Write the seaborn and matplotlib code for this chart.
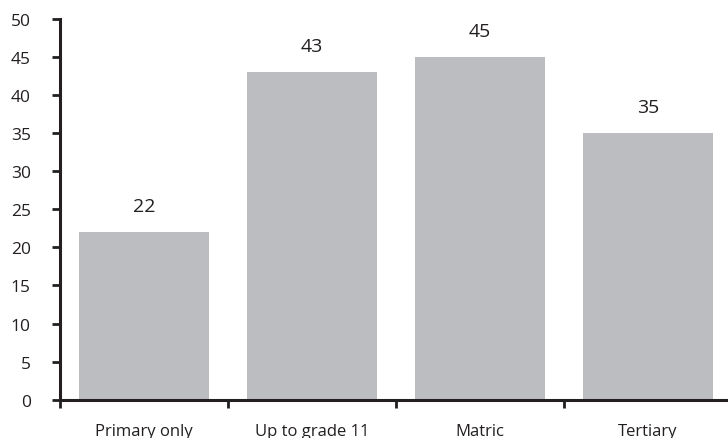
import matplotlib
matplotlib.use("Agg")
import matplotlib.pyplot as plt
import seaborn as sns
import pandas as pd
import numpy as np

categories = ["Primary only", "Up to grade 11", "Matric", "Tertiary"]
values = [22, 43, 45, 35]
y_ticks = [0, 5, 10, 15, 20, 25, 30, 35, 40, 45, 50]

sns.set_theme(style="white")
plt.rcParams["font.family"] = ["Open Sans", "DejaVu Sans"]

ink = "#231f20"
bar_grey = "#bcbdc1"

df = pd.DataFrame({"level": categories, "share": values})

fig = plt.figure(figsize=(7.28, 4.39), dpi=100)
ax = fig.add_axes([60 / 728, (439 - 400.7) / 439, 672 / 728, (400.7 - 20) / 439])

sns.barplot(data=df, x="level", y="share", color=bar_grey, width=0.775,
            saturation=1, linewidth=0, ax=ax)

for i, v in enumerate(values):
    ax.annotate(f"{v:.0f}", (i, v), xytext=(0, 19), textcoords="offset points",
                ha="center", va="center", fontsize=14, color=ink)

ax.set_ylim(0, 50)
ax.set_xlim(-0.5, len(categories) - 0.5)
ax.set_yticks(y_ticks)
ax.set_xlabel("")
ax.set_ylabel("")

for side in ("top", "right"):
    ax.spines[side].set_visible(False)
for side in ("left", "bottom"):
    ax.spines[side].set_color(ink)
    ax.spines[side].set_linewidth(2.2)

ax.tick_params(axis="y", which="major", direction="out", length=6, width=2,
               color=ink, labelsize=12.5, labelcolor=ink, pad=15, left=True)
ax.tick_params(axis="x", which="major", length=0, pad=17, labelsize=12,
               labelcolor=ink)
ax.set_xticks(np.arange(len(categories)) - 0.5, minor=True)
ax.tick_params(axis="x", which="minor", direction="out", length=5.5, width=2,
               color=ink, bottom=True)

fig.savefig("out.png", dpi=100)
